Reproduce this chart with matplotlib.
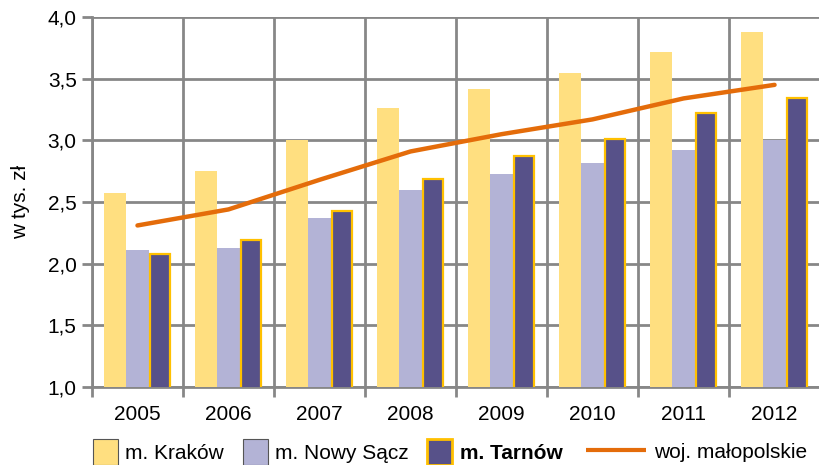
import matplotlib.pyplot as plt
import numpy as np

plt.rcParams['font.family'] = ['Liberation Sans', 'DejaVu Sans']

years = ['2005', '2006', '2007', '2008', '2009', '2010', '2011', '2012']
krakow = [2.57, 2.75, 3.00, 3.26, 3.42, 3.55, 3.72, 3.88]
nowy_sacz = [2.11, 2.13, 2.37, 2.60, 2.73, 2.82, 2.92, 3.00]
tarnow = [2.08, 2.19, 2.43, 2.69, 2.87, 3.01, 3.22, 3.34]
malopolskie = [2.31, 2.44, 2.68, 2.91, 3.05, 3.17, 3.34, 3.45]

grid_col = '#878787'
fs = 15

fig = plt.figure(figsize=(8.19, 4.65), dpi=100)
ax = fig.add_axes([0.1123, 0.1677, 0.889, 0.7957])

x = np.arange(len(years))
w = 0.245
b1 = ax.bar(x - w, krakow, w, color='#FFDF80', label='m. Kraków', zorder=3)
b2 = ax.bar(x, nowy_sacz, w, color='#B3B3D6', label='m. Nowy Sącz', zorder=3)
b3 = ax.bar(x + w, tarnow, w * 0.92, color='#575189', edgecolor='#FFC000',
            linewidth=1.6, label='m. Tarnów', zorder=3)
ln, = ax.plot(x, malopolskie, color='#E46C0A', linewidth=3.2,
              solid_capstyle='round', label='woj. małopolskie', zorder=4)

ax.set_xlim(-0.5, len(years) - 0.5)
ax.set_ylim(1.0, 4.0)
ax.set_yticks([1.0, 1.5, 2.0, 2.5, 3.0, 3.5, 4.0])
ax.set_yticklabels(['1,0', '1,5', '2,0', '2,5', '3,0', '3,5', '4,0'])
ax.set_xticks(x)
ax.set_xticklabels(years)
ax.set_xticks(np.arange(-0.5, len(years)), minor=True)
ax.tick_params(axis='x', which='major', length=0, labelsize=fs, pad=13)
ax.tick_params(axis='x', which='minor', length=7, width=2, color=grid_col)
ax.tick_params(axis='y', length=7, width=2, color=grid_col, labelsize=fs, pad=4)

ax.grid(True, which='minor', axis='x', color=grid_col, linewidth=2, zorder=1)
ax.grid(True, which='major', axis='y', color=grid_col, linewidth=2, zorder=1)
for s in ['top', 'right']:
    ax.spines[s].set_visible(False)
for s in ['left', 'bottom']:
    ax.spines[s].set_color(grid_col)
    ax.spines[s].set_linewidth(2)

ax.set_ylabel('w tys. zł', fontsize=fs, labelpad=13)

y_leg = 1 - 452 / 465
leg1 = fig.legend([b1, b2, b3], ['m. Kraków', 'm. Nowy Sącz', 'm. Tarnów'],
                  loc='center left', bbox_to_anchor=(93 / 819, y_leg), ncol=3,
                  frameon=False, fontsize=fs, handlelength=1.2, handleheight=1.5,
                  columnspacing=0.9, handletextpad=0.35, borderpad=0,
                  borderaxespad=0)
for txt in leg1.get_texts():
    if txt.get_text() == 'm. Tarnów':
        txt.set_fontweight('bold')
for h in leg1.legend_handles[:2]:
    h.set_edgecolor('#555555')
    h.set_linewidth(0.8)
leg1.legend_handles[2].set_linewidth(2)

leg2 = fig.legend([ln], ['woj. małopolskie'],
                  loc='center left', bbox_to_anchor=(586 / 819, y_leg),
                  frameon=False, fontsize=fs, handlelength=2.9,
                  handletextpad=0.35, borderpad=0, borderaxespad=0)
leg2.legend_handles[0].set_linewidth(3)
leg2.legend_handles[0].set_solid_capstyle('butt')

fig.savefig('out.png', dpi=100)
